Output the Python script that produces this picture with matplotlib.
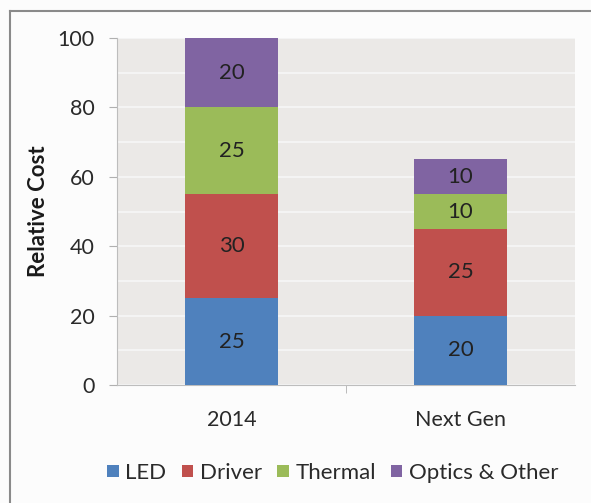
import matplotlib.pyplot as plt
from matplotlib.lines import Line2D
import numpy as np

plt.rcParams['font.family'] = ['Lato', 'DejaVu Sans']

categories = ['2014', 'Next Gen']
components = ['LED', 'Driver', 'Thermal', 'Optics & Other']
led = [25, 20]
driver = [30, 25]
thermal = [25, 10]
optics = [20, 10]
colors = ['#4F81BD', '#C0504D', '#9BBB59', '#8064A2']

fig = plt.figure(figsize=(5.91, 5.03), dpi=100)
fig.patch.set_facecolor('#fcfcfc')

# outer frame (only top and left visible in the original crop)
fig.add_artist(Line2D([10 / 591, 1], [1 - 11 / 503, 1 - 11 / 503], color='#8a8a8a', lw=1.5))
fig.add_artist(Line2D([10 / 591, 10 / 591], [0, 1 - 11 / 503], color='#8a8a8a', lw=1.5))

ax = fig.add_axes([117 / 591, 118 / 503, 458 / 591, 347 / 503])
ax.set_facecolor('#ebe9e7')

x = np.arange(len(categories))
bottom = np.zeros(len(categories))
for name, vals, c in zip(components, [led, driver, thermal, optics], colors):
    bars = ax.bar(x, vals, width=0.41, bottom=bottom, color=c, label=name, zorder=3)
    for b, v, b0 in zip(bars, vals, bottom):
        ax.text(b.get_x() + b.get_width() / 2, b0 + v / 2, str(v),
                ha='center', va='center', fontsize=16, color='#222222', zorder=4)
    bottom += np.array(vals)

ax.set_xlim(-0.5, 1.5)
ax.set_ylim(0, 100)
ax.set_yticks(range(0, 101, 20))
ax.set_yticks(range(0, 101, 10), minor=True)
ax.grid(axis='y', which='both', color='#f7f7f7', lw=1.2, zorder=1)
ax.set_xticks(x)
ax.set_xticklabels(categories)
ax.set_xticks([0.5], minor=True)
ax.tick_params(axis='y', which='major', labelsize=15.5, colors='#b0b0b0', labelcolor='#2a2a2a', length=6, pad=10)
ax.tick_params(axis='y', which='minor', length=0)
ax.tick_params(axis='x', which='major', labelsize=15.5, labelcolor='#2a2a2a', length=0, pad=18)
ax.tick_params(axis='x', which='minor', length=6, colors='#b0b0b0')
for s in ['top', 'right']:
    ax.spines[s].set_visible(False)
ax.spines['left'].set_color('#bdbdbd')
ax.spines['bottom'].set_color('#bdbdbd')

ax.set_ylabel('Relative Cost', fontsize=16, fontweight='bold', color='#1a1a1a', labelpad=6)

fig.legend(loc='center', bbox_to_anchor=(333 / 591, 1 - 473 / 503), ncol=4,
           frameon=False, fontsize=16, handlelength=0.5, handleheight=0.5,
           handletextpad=0.3, columnspacing=0.7, labelcolor='#2a2a2a')

fig.savefig('out.png', dpi=100, facecolor=fig.get_facecolor())
